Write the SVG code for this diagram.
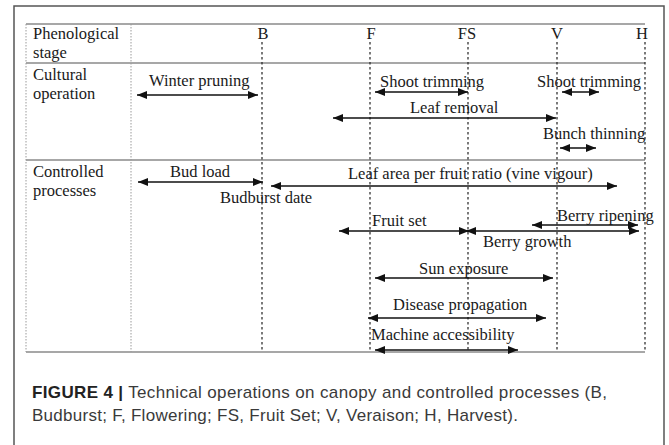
<svg xmlns="http://www.w3.org/2000/svg" width="669" height="445" viewBox="0 0 669 445">
<style>
.t{font-family:"Liberation Serif","Times New Roman",serif;font-size:16.5px;fill:#1a1a1a}
.grid{stroke:#8a8a8a;stroke-width:1.3;fill:none}
.gdot{stroke:#9a9a9a;stroke-width:1;stroke-dasharray:1.5,1.5;fill:none}
.phase{stroke:#222;stroke-width:1.2;stroke-dasharray:2.5,2.5;fill:none}
.arr{stroke:#111;stroke-width:1.7;fill:none;marker-start:url(#ah);marker-end:url(#ah)}
.cap{font-family:"Liberation Sans",Arial,sans-serif;font-size:17px;fill:#3a3a3a}
</style>
<defs>
<marker id="ah" markerWidth="10" markerHeight="8" refX="10" refY="4" orient="auto-start-reverse" markerUnits="userSpaceOnUse">
<path d="M0,0 L10,4 L0,8 Z" fill="#111"/>
</marker>
</defs>
<rect width="669" height="445" fill="#fff"/>
<path d="M14,445 V6 H664 V445" fill="none" stroke="#555" stroke-width="1.5"/>
<g id="table">
<line class="grid" x1="26" y1="24" x2="645" y2="24"/>
<line class="grid" x1="26" y1="63" x2="645" y2="63"/>
<line class="grid" x1="26" y1="160" x2="645" y2="160"/>
<line class="grid" x1="26" y1="352" x2="645" y2="352"/>
<line class="gdot" x1="26" y1="24" x2="26" y2="352"/>
<line class="gdot" x1="131" y1="24" x2="131" y2="352"/>
</g>
<g id="phases">
<line class="phase" x1="262" y1="42" x2="262" y2="352"/>
<line class="phase" x1="370" y1="42" x2="370" y2="352"/>
<line class="phase" x1="468" y1="42" x2="468" y2="352"/>
<line class="phase" x1="557" y1="42" x2="557" y2="352"/>
<line class="phase" x1="645" y1="42" x2="645" y2="352"/>
<text class="t" x="263" y="39" text-anchor="middle">B</text>
<text class="t" x="371" y="39" text-anchor="middle">F</text>
<text class="t" x="467" y="39" text-anchor="middle">FS</text>
<text class="t" x="557" y="39" text-anchor="middle">V</text>
<text class="t" x="642" y="39" text-anchor="middle">H</text>
</g>
<g id="row-headers">
<text class="t" x="33" y="39">Phenological</text>
<text class="t" x="33" y="58">stage</text>
<text class="t" x="33" y="80">Cultural</text>
<text class="t" x="33" y="99">operation</text>
<text class="t" x="33" y="177">Controlled</text>
<text class="t" x="33" y="196">processes</text>
</g>
<g id="connectors">
<line class="arr" x1="137" y1="95" x2="258" y2="95"/>
<line class="arr" x1="375" y1="92" x2="468" y2="92"/>
<line class="arr" x1="562" y1="92" x2="599" y2="92"/>
<line class="arr" x1="333" y1="118" x2="556" y2="118"/>
<line class="arr" x1="560" y1="148" x2="596" y2="148"/>
<line class="arr" x1="138" y1="182" x2="263" y2="182"/>
<line class="arr" x1="271" y1="186" x2="617" y2="186"/>
<line class="arr" x1="339" y1="231" x2="469" y2="231"/>
<line class="arr" x1="466" y1="231" x2="639" y2="231"/>
<line class="arr" x1="532" y1="225" x2="638" y2="225"/>
<line class="arr" x1="375" y1="278" x2="553" y2="278"/>
<line class="arr" x1="368" y1="318" x2="546" y2="318"/>
<line class="arr" x1="375" y1="350" x2="518" y2="350"/>
</g>
<g id="labels">
<text class="t" x="149" y="86">Winter pruning</text>
<text class="t" x="380" y="87">Shoot trimming</text>
<text class="t" x="537" y="87">Shoot trimming</text>
<text class="t" x="410" y="113">Leaf removal</text>
<text class="t" x="543" y="139">Bunch thinning</text>
<text class="t" x="170" y="177">Bud load</text>
<text class="t" x="348" y="179">Leaf area per fruit ratio (vine vigour)</text>
<text class="t" x="220" y="203">Budburst date</text>
<text class="t" x="372" y="226">Fruit set</text>
<text class="t" x="557" y="221">Berry ripening</text>
<text class="t" x="483" y="247">Berry growth</text>
<text class="t" x="419" y="274">Sun exposure</text>
<text class="t" x="393" y="310">Disease propagation</text>
<text class="t" x="371" y="340">Machine accessibility</text>
</g>
<g id="caption">
<text class="cap" x="32" y="398" textLength="575" lengthAdjust="spacing"><tspan font-weight="bold" fill="#222">FIGURE 4 |</tspan> Technical operations on canopy and controlled processes (B,</text>
<text class="cap" x="32" y="421" textLength="486" lengthAdjust="spacing">Budburst; F, Flowering; FS, Fruit Set; V, Veraison; H, Harvest).</text>
</g>
</svg>
